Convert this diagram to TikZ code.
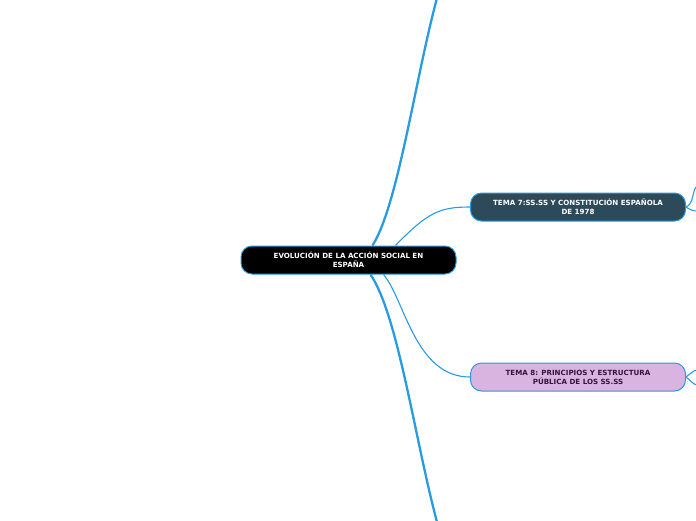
\documentclass[tikz,border=0pt]{standalone}
\usepackage{fontspec}
\setmainfont{DejaVu Sans}
\definecolor{linkblue}{RGB}{40,155,225}
\definecolor{slate}{RGB}{45,74,90}
\definecolor{lav}{RGB}{217,180,224}
\definecolor{plum}{RGB}{52,20,62}
\begin{document}
\begin{tikzpicture}[x=1pt,y=-1pt,
  topic/.style={draw=linkblue,line width=1pt,rounded corners=11pt,minimum width=215pt,minimum height=28pt,
    align=center,font=\bfseries\fontsize{7.1}{9}\selectfont,inner sep=2pt},
  thick link/.style={draw=linkblue,line width=2.3pt},
  thin link/.style={draw=linkblue,line width=1.1pt}]
\useasboundingbox (0,0) rectangle (696,520);
\node[topic,fill=black,text=white] (c) at (348.5,260) {EVOLUCIÓN DE LA ACCIÓN SOCIAL EN\\ESPAÑA};
\node[topic,fill=slate,text=white] (t7) at (578,207) {TEMA 7:SS.SS Y CONSTITUCIÓN ESPAÑOLA\\DE 1978};
\node[topic,fill=lav,text=plum] (t8) at (578,377) {TEMA 8: PRINCIPIOS Y ESTRUCTURA\\PÚBLICA DE LOS SS.SS};
\coordinate (top) at (437,-2);
\coordinate (bot) at (437,522);
\coordinate (r7a) at (697,186);
\coordinate (r7b) at (697,211);
\coordinate (r8a) at (697,370);
\coordinate (r8b) at (697,385);
\draw[thick link] ([xshift=24pt]c.north) .. controls (398,205) and (415,80) .. (top);
\draw[thick link] ([xshift=22pt]c.south) .. controls (398,315) and (415,440) .. (bot);
\draw[thin link] ([xshift=47pt]c.north) .. controls (428,212) and (440,207) .. (t7.west);
\draw[thin link] ([xshift=35pt]c.south) .. controls (405,300) and (415,377) .. (t8.west);
\draw[thin link] (t7.east) .. controls (694,204) and (692,190) .. (r7a);
\draw[thin link] (t7.east) .. controls (690,210) and (694,211) .. (r7b);
\draw[thin link] (t8.east) .. controls (690,374) and (694,370) .. (r8a);
\draw[thin link] (t8.east) .. controls (690,380) and (694,385) .. (r8b);
\end{tikzpicture}
\end{document}
